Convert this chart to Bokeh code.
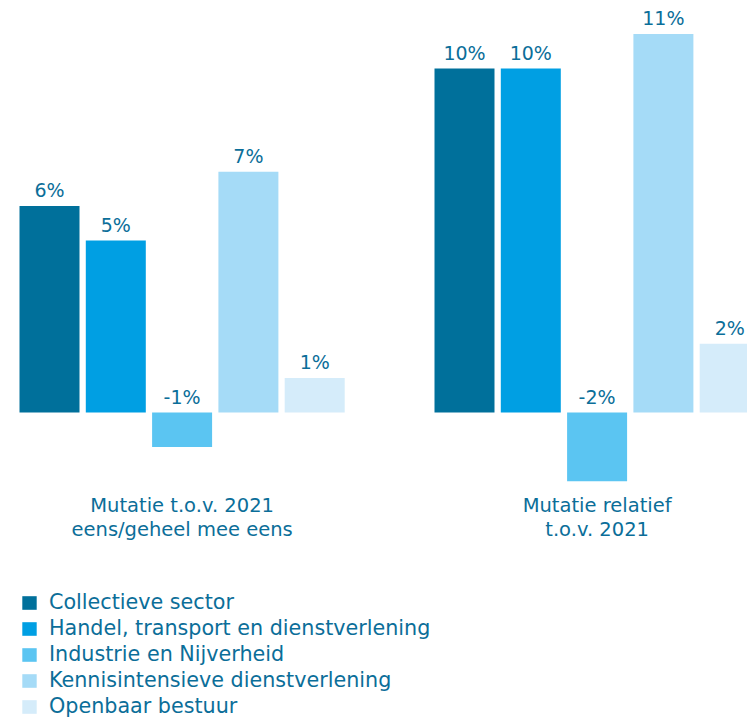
from bokeh.plotting import figure
from bokeh.models import ColumnDataSource, Range1d, Legend, LegendItem
from bokeh.core.properties import value
from bokeh.embed import file_html
from bokeh.resources import INLINE

# ---- data ----
group_line1 = ["Mutatie t.o.v. 2021", "Mutatie relatief"]
group_line2 = ["eens/geheel mee eens", "t.o.v. 2021"]
series = [
    "Collectieve sector",
    "Handel, transport en dienstverlening",
    "Industrie en Nijverheid",
    "Kennisintensieve dienstverlening",
    "Openbaar bestuur",
]
group1_values = [6, 5, -1, 7, 1]
group2_values = [10, 10, -2, 11, 2]
colors = ["#00709b", "#009fe3", "#5bc5f2", "#a5dbf7", "#d5ecfa"]

# ---- layout ----
W, H = 747, 719
PX_PER_PCT = 34.4
ZERO_Y = 412          # zero line, px from top
FIRST_X = 49          # centre of first bar
STEP = 66.3           # bar pitch within a group
GROUP_GAP = 415       # offset between groups
BAR_W = 60
TEXT_COLOR = "#0b6e99"
FONT_NAME = "DejaVu Sans"
FONT = value(FONT_NAME)

p = figure(width=W, height=H, output_backend="svg", toolbar_location=None,
           x_range=Range1d(0, W),
           y_range=Range1d(-(H - ZERO_Y) / PX_PER_PCT, ZERO_Y / PX_PER_PCT),
           x_axis_location=None, y_axis_location=None, min_border=0)
p.grid.visible = False
p.outline_line_color = None
p.background_fill_color = "white"

items = []
for i, (name, color) in enumerate(zip(series, colors)):
    vals = [group1_values[i], group2_values[i]]
    xs = [FIRST_X + i * STEP + g * GROUP_GAP for g in range(2)]
    src = ColumnDataSource(dict(
        x=xs, top=vals,
        ly=[max(v, 0) for v in vals],
        lbl=[f"{v}%" for v in vals],
    ))
    r = p.vbar(x="x", top="top", bottom=0, width=BAR_W, source=src,
               fill_color=color, line_color=None)
    p.text(x="x", y="ly", text="lbl", source=src, y_offset=-16,
           text_align="center", text_baseline="alphabetic",
           text_font=FONT, text_font_size="19px", text_color=TEXT_COLOR)
    items.append(LegendItem(label=name, renderers=[r]))

centers = [FIRST_X + 2 * STEP + g * GROUP_GAP for g in range(2)]
csrc = ColumnDataSource(dict(x=centers, y=[0, 0], l1=group_line1, l2=group_line2))
p.text(x="x", y="y", text="l1", source=csrc, y_offset=93,
       text_align="center", text_baseline="alphabetic",
       text_font=FONT, text_font_size="19.5px", text_color=TEXT_COLOR)
p.text(x="x", y="y", text="l2", source=csrc, y_offset=117,
       text_align="center", text_baseline="alphabetic",
       text_font=FONT, text_font_size="19.5px", text_color=TEXT_COLOR)

legend = Legend(items=items, location=(20, 1), orientation="vertical",
                glyph_width=18, glyph_height=17, label_standoff=11,
                label_height=20, spacing=2, padding=0, margin=0,
                border_line_color=None, background_fill_alpha=0,
                label_text_font=FONT_NAME, label_text_font_size="20.7px",
                label_text_color=TEXT_COLOR)
p.add_layout(legend)

open("out.html", "w").write(file_html(p, INLINE))
